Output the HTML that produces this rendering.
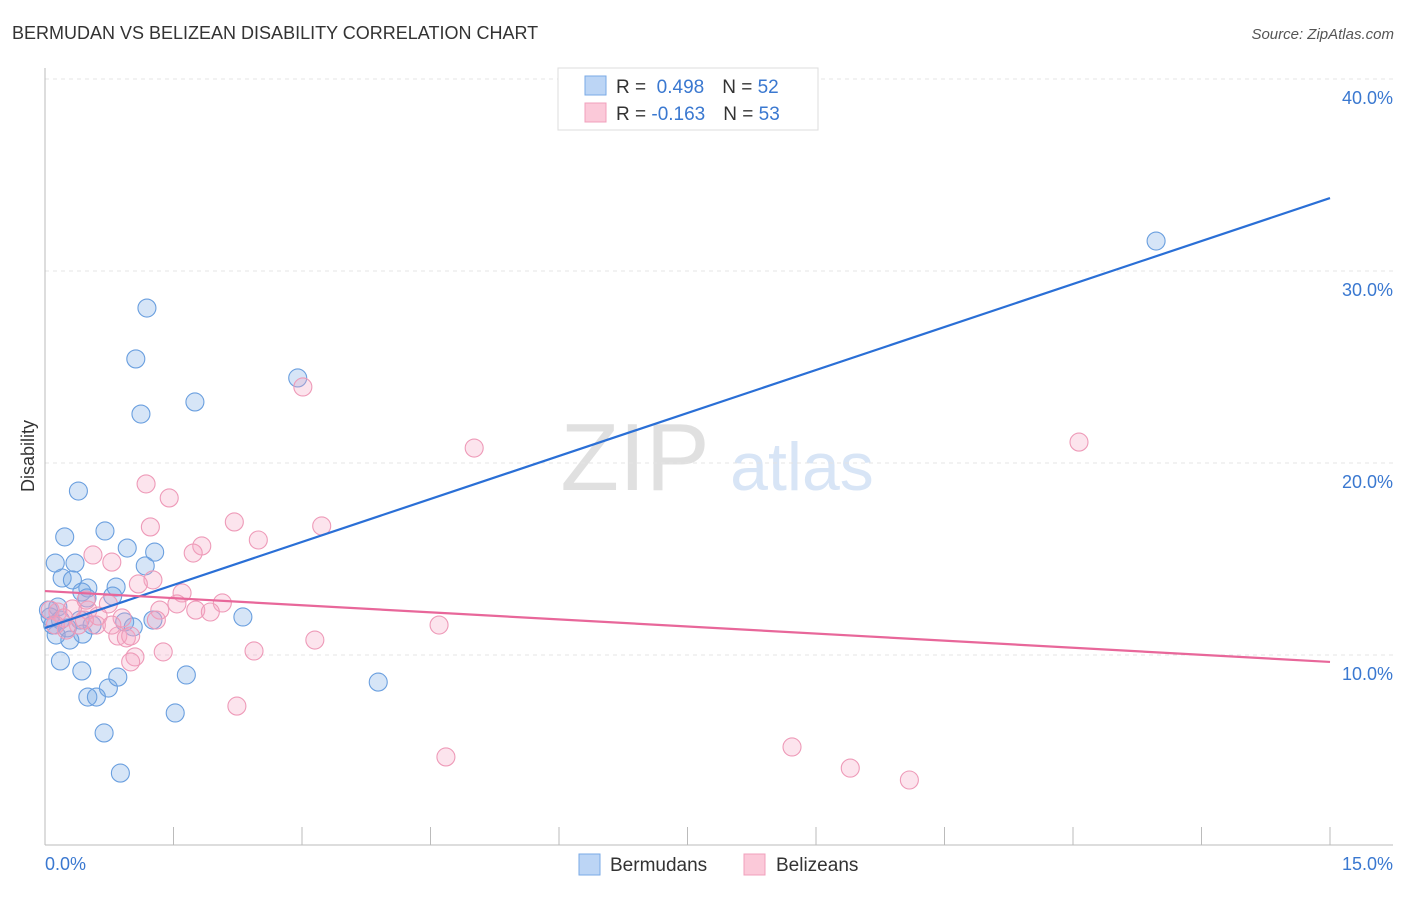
<!DOCTYPE html>
<html><head><meta charset="utf-8"><style>
body{margin:0;background:#fff;font-family:"Liberation Sans",sans-serif;}
svg text{font-family:"Liberation Sans",sans-serif;}
</style></head><body>
<svg id="c" width="1406" height="892">
<text x="12" y="39" font-size="18" fill="#333">BERMUDAN VS BELIZEAN DISABILITY CORRELATION CHART</text>
<text x="1394" y="39" font-size="15" fill="#555" text-anchor="end" font-style="italic">Source: ZipAtlas.com</text>
<text x="635" y="490" font-size="96" fill="#e0e0e0" text-anchor="middle" font-family="Liberation Serif">ZIP</text>
<text x="802" y="490" font-size="68" fill="#d8e5f6" text-anchor="middle">atlas</text>
<g id="grid"></g><g id="ax"></g><g id="pts"></g><g id="lines"></g>
<text x="34" y="456" font-size="18" fill="#333" text-anchor="middle" transform="rotate(-90 34 456)">Disability</text>
<text x="45" y="870" font-size="18" fill="#3a78d0">0.0%</text>
<text x="1393" y="870" font-size="18" fill="#3a78d0" text-anchor="end">15.0%</text>
<g>
<rect x="558" y="68" width="260" height="62" fill="#fff" stroke="#ddd"/>
<rect x="585" y="76" width="21" height="19" fill="#bcd5f5" stroke="#7aaae6"/>
<rect x="585" y="103" width="21" height="19" fill="#fbc9d9" stroke="#f0a0bc"/>
<text x="616" y="93" font-size="19" fill="#333">R = <tspan fill="#3a78d0">&#160;0.498</tspan><tspan dx="18">N = </tspan><tspan fill="#3a78d0">52</tspan></text>
<text x="616" y="120" font-size="19" fill="#333">R = <tspan fill="#3a78d0">-0.163</tspan><tspan dx="18">N = </tspan><tspan fill="#3a78d0">53</tspan></text>
</g>
<g>
<rect x="579" y="854" width="21" height="21" fill="#bcd5f5" stroke="#7aaae6"/>
<text x="610" y="871" font-size="19" fill="#333">Bermudans</text>
<rect x="744" y="854" width="21" height="21" fill="#fbc9d9" stroke="#f0a0bc"/>
<text x="776" y="871" font-size="19" fill="#333">Belizeans</text>
</g>
</svg>
<script>
const yTicks=[10,20,30,40];
const xTicks=[0,1.5,3,4.5,6,7.5,9,10.5,12,13.5,15];
const blueX=[12.97,1.19,1.06,1.12,1.75,2.95,0.39,0.23,0.70,0.96,1.28,0.12,0.35,0.20,0.32,0.50,0.83,1.17,0.43,0.49,0.15,0.04,0.06,0.18,0.41,0.55,0.93,1.03,1.26,2.31,0.26,0.13,0.44,0.29,0.18,0.43,1.65,0.74,0.85,0.50,0.60,1.52,0.69,0.88,3.89,0.09,0.79];
const blueY=[31.56,28.07,25.42,22.55,23.18,24.43,18.54,16.15,16.46,15.57,15.36,14.79,14.79,14.01,13.91,13.49,13.54,14.64,13.28,12.97,12.50,12.34,11.98,11.82,11.82,11.56,11.72,11.46,11.82,11.98,11.41,11.04,11.09,10.78,9.69,9.17,8.96,8.28,8.85,7.81,7.81,6.98,5.94,3.85,8.59,11.56,13.07];
const pinkX=[3.01,5.01,12.07,1.18,1.45,1.23,2.21,3.23,2.49,1.83,1.73,0.56,0.78,1.26,1.09,1.60,0.74,2.07,1.34,1.54,1.76,1.93,0.90,1.30,0.50,0.32,0.15,0.06,0.22,0.39,0.60,0.25,0.85,0.95,1.00,4.60,3.15,1.38,1.05,1.00,2.44,2.24,4.68,8.72,9.40,10.09,0.62,0.46,0.12,0.78,0.48];
const pinkY=[23.96,20.78,21.09,18.91,18.18,16.67,16.93,16.72,15.99,15.68,15.31,15.21,14.84,13.91,13.70,13.23,12.66,12.71,12.34,12.66,12.34,12.24,11.93,11.82,12.34,12.40,12.24,12.34,11.93,11.56,11.56,11.30,10.99,10.89,10.99,11.56,10.78,10.16,9.90,9.64,10.21,7.34,4.69,5.21,4.11,3.49,12.03,11.82,11.56,11.56,12.86];
const blueTrend=[11.41,33.8];
const pinkTrend=[13.33,9.64];
const sx=v=>45+v*(1285/15);
const sy=v=>655-(v-10)*19.2;
const NS='http://www.w3.org/2000/svg';
function mk(t,a,p){const e=document.createElementNS(NS,t);for(const k in a)e.setAttribute(k,a[k]);document.getElementById(p).appendChild(e);return e;}
yTicks.forEach(t=>{
 const l=mk('line',{x1:45,x2:1393,y1:sy(t),y2:sy(t),stroke:'#e4e4e4','stroke-dasharray':'4,4'},'grid');
 
 
 const tx=mk('text',{x:1393,y:sy(t)+25,'font-size':18,fill:'#3a78d0','text-anchor':'end'},'grid');
 tx.textContent=t.toFixed(1)+'%';
 
 
});
mk('line',{x1:45,x2:45,y1:68,y2:845,stroke:'#bbb'},'ax');
mk('line',{x1:45,x2:1393,y1:845,y2:845,stroke:'#bbb'},'ax');
xTicks.forEach(t=>{
 const l=mk('line',{x1:sx(t),x2:sx(t),y1:827,y2:845,stroke:'#bbb'},'ax');
 
 
});
blueX.forEach((v,i)=>{
 const c=mk('circle',{cx:sx(v),cy:sy(blueY[i]),r:9,fill:'rgba(120,170,230,0.3)',stroke:'#6a9fdf','stroke-width':1.1},'pts');
 
 
});
pinkX.forEach((v,i)=>{
 const c=mk('circle',{cx:sx(v),cy:sy(pinkY[i]),r:9,fill:'rgba(245,165,195,0.3)',stroke:'#ee9ab8','stroke-width':1.1},'pts');
 
 
});
const bl=mk('line',{x1:sx(0),y1:sy(blueTrend[0]),x2:sx(15),y2:sy(blueTrend[1]),stroke:'#2a6fd6','stroke-width':2.2},'lines');


const pl=mk('line',{x1:sx(0),y1:sy(pinkTrend[0]),x2:sx(15),y2:sy(pinkTrend[1]),stroke:'#e8679a','stroke-width':2.2},'lines');


</script>
</body></html>
